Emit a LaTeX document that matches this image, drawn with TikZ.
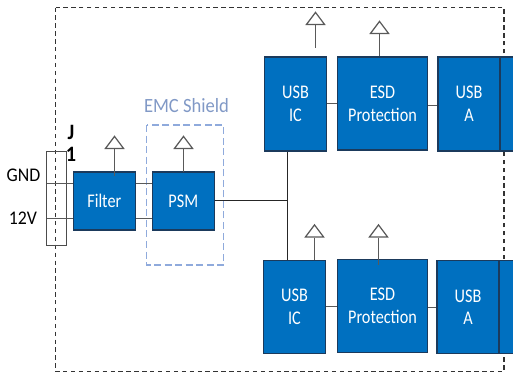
\documentclass[tikz,border=0pt]{standalone}
\usepackage{fontspec}
\setmainfont{Carlito}
\newfontfamily\narrowfont[FakeStretch=0.84]{Carlito}
\newfontfamily\bodyfont[FakeStretch=0.92]{Carlito}
\usetikzlibrary{shapes.geometric}
\definecolor{boxblue}{HTML}{0070C0}
\definecolor{boxedge}{HTML}{1B3A5C}
\definecolor{wiregray}{HTML}{595959}
\definecolor{shieldblue}{HTML}{8FAADC}
\tikzset{
  blockbox/.style = {draw = boxedge, fill = boxblue, text = white, line width = 0.6pt, inner sep = 0pt,
    align = center, font = \narrowfont\fontsize{11}{13}\selectfont},
  wire/.style = {draw = wiregray, line width = 0.7pt},
  gndmark/.style = {draw = wiregray, fill = white, line width = 0.7pt, isosceles triangle, shape border rotate = 90,
    isosceles triangle stretches, minimum width = 0.36cm, minimum height = 0.24cm, inner sep = 0pt, anchor = lower side},
  labeltext/.style = {inner sep = 0pt, font = \bodyfont\fontsize{11}{13}\selectfont}
}
\begin{document}
\begin{tikzpicture}[x = 0.02cm, y = -0.02cm]
    \useasboundingbox (0, 0) rectangle (513, 372);
    \clip (0, 0) rectangle (513, 372);
    % board outline
    \draw[dash pattern = on 2.5pt off 2pt, line width = 0.6pt, black!80] (55.5, 7.5) rectangle (504, 371.5);
    % connector
    \draw[line width = 0.5pt, black!70] (46.5, 151.5) rectangle (66, 245.5);
    \coordinate (gndpin) at (46.5, 183.5);
    \coordinate (vpin) at (46.5, 218.5);
    \node[labeltext] (gnd) at (23.5, 175) {GND};
    \node[labeltext] (twelve) at (23, 218) {12V};
    \node[labeltext, font = \bodyfont\fontsize{12.5}{13}\selectfont\bfseries] (jone) at (71, 132) {J};
    \node[labeltext, font = \bodyfont\fontsize{12.5}{13}\selectfont\bfseries] (jtwo) at (71, 154) {1};
    % shield
    \draw[dash pattern = on 4pt off 2pt, shieldblue, line width = 0.9pt] (146.5, 125) rectangle (223.5, 265);
    \node[labeltext, text = shieldblue!90!black, font = \bodyfont\fontsize{11.5}{13}\selectfont] (shield) at (186.5, 106) {EMC Shield};
    % power side
    \node[blockbox, minimum width = 1.25cm, minimum height = 1.16cm] (filter) at (104.3, 201) {Filter};
    \node[blockbox, minimum width = 1.25cm, minimum height = 1.16cm] (psm) at (183.3, 201) {PSM};
    % upper row
    \node[blockbox, minimum width = 1.25cm, minimum height = 1.88cm] (usbtop) at (295.5, 104) {USB\\IC};
    \node[blockbox, minimum width = 1.8cm, minimum height = 1.86cm] (esdtop) at (382.5, 103.5) {ESD\\Protection};
    \node[blockbox, minimum width = 1.24cm, minimum height = 1.88cm] (atop) at (469, 104) {USB\\A};
    \node[blockbox, minimum width = 1.24cm, minimum height = 1.88cm] (plugtop) at (531, 104) {};
    % lower row
    \node[blockbox, minimum width = 1.25cm, minimum height = 1.86cm] (usbbot) at (294.5, 307.2) {USB\\IC};
    \node[blockbox, minimum width = 1.8cm, minimum height = 1.86cm] (esdbot) at (382.5, 306) {ESD\\Protection};
    \node[blockbox, minimum width = 1.24cm, minimum height = 1.86cm] (abot) at (468, 307.2) {USB\\A};
    \node[blockbox, minimum width = 1.24cm, minimum height = 1.86cm] (plugbot) at (530, 307.2) {};
    % wires
    \draw[wire] (gndpin) -- (gndpin -| filter.west);
    \draw[wire] (vpin) -- (vpin -| filter.west);
    \draw[wire] (gndpin -| filter.east) -- (gndpin -| psm.west);
    \draw[wire] (vpin -| filter.east) -- (vpin -| psm.west);
    \coordinate (branch) at (287.5, 200.5);
    \draw[line width = 0.5pt, black!85] (psm.east |- branch) -- (branch);
    \draw[line width = 0.5pt, black!85] (branch |- usbtop.south) -- (branch |- usbbot.north);
    \coordinate (linkusbtop) at (330, 103.5);
    \coordinate (linkesdtop) at (430, 105.5);
    \coordinate (linkusbbot) at (330, 306.5);
    \coordinate (linkesdbot) at (430, 307.5);
    \draw[wire] (usbtop.east |- linkusbtop) -- (esdtop.west |- linkusbtop);
    \draw[wire] (esdtop.east |- linkesdtop) -- (atop.west |- linkesdtop);
    \draw[wire] (usbbot.east |- linkusbbot) -- (esdbot.west |- linkusbbot);
    \draw[wire] (esdbot.east |- linkesdbot) -- (abot.west |- linkesdbot);
    % return marks
    \node[gndmark] (markfilter) at (114.5, 149) {};
    \node[gndmark] (markpsm) at (183.5, 149) {};
    \node[gndmark] (markusbtop) at (315.5, 25) {};
    \node[gndmark] (markesdtop) at (379.5, 34) {};
    \node[gndmark] (markusbbot) at (314.5, 237.5) {};
    \node[gndmark] (markesdbot) at (378.5, 237.5) {};
    \coordinate (endfilter) at (114.5, 176);
    \coordinate (endpsm) at (183.5, 172);
    \coordinate (endusbtop) at (315.5, 48);
    \coordinate (endesdbot) at (378.5, 265);
    \draw[wire] (markfilter.lower side) -- (endfilter);
    \draw[wire] (markpsm.lower side) -- (endpsm);
    \draw[wire] (markusbtop.lower side) -- (endusbtop);
    \draw[wire] (markesdtop.lower side) -- (markesdtop.lower side |- esdtop.north);
    \draw[wire] (markusbbot.lower side) -- (markusbbot.lower side |- usbbot.north);
    \draw[wire] (markesdbot.lower side) -- (endesdbot);
  \end{tikzpicture}
\end{document}
